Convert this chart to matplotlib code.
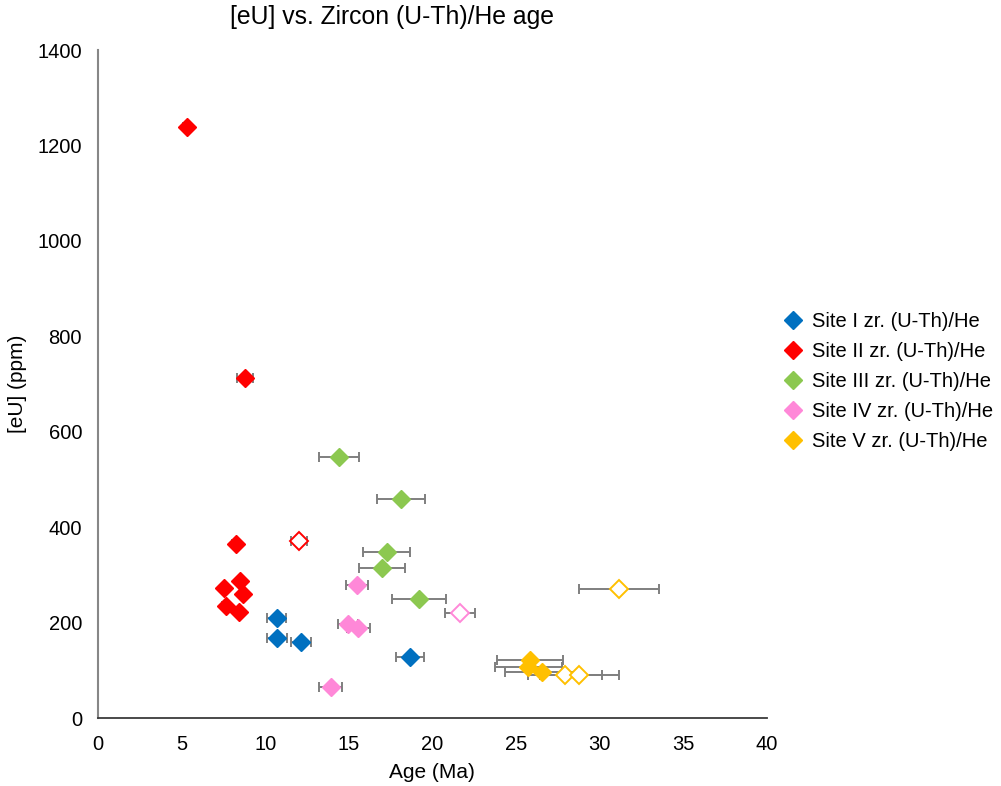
import matplotlib
matplotlib.use("Agg")
import matplotlib.pyplot as plt
from matplotlib.lines import Line2D

plt.rcParams['font.family'] = ['Liberation Sans', 'DejaVu Sans']

# Site series: age (Ma), eU (ppm), 1-sigma age uncertainty (Ma)
site1_age = [10.70, 10.70, 12.14, 18.65]
site1_eu = [210, 168, 160, 128]
site1_err = [0.57, 0.60, 0.60, 0.84]

site2_age = [5.30, 8.79, 8.23, 8.49, 7.53, 8.69, 7.63, 8.43]
site2_eu = [1239, 712, 365, 288, 272, 260, 235, 223]
site2_err = [0.20, 0.45, 0.22, 0.20, 0.20, 0.20, 0.20, 0.20]
site2_open_age = [12.02]
site2_open_eu = [372]
site2_open_err = [0.50]

site3_age = [14.43, 18.12, 17.26, 16.98, 19.19]
site3_eu = [548, 458, 347, 315, 250]
site3_err = [1.20, 1.42, 1.42, 1.40, 1.60]

site4_age = [15.49, 14.97, 15.57, 13.91]
site4_eu = [279, 198, 188, 64]
site4_err = [0.68, 0.60, 0.70, 0.70]
site4_open_age = [21.67]
site4_open_eu = [221]
site4_open_err = [0.90]

site5_age = [25.83, 25.73, 26.53]
site5_eu = [122, 106, 96]
site5_err = [2.00, 2.00, 2.18]
site5_open_age = [27.92, 28.78, 31.17]
site5_open_eu = [90, 90, 270]
site5_open_err = [2.20, 2.37, 2.39]

labels = ["Site I zr. (U-Th)/He", "Site II zr. (U-Th)/He", "Site III zr. (U-Th)/He",
          "Site IV zr. (U-Th)/He", "Site V zr. (U-Th)/He"]
colors = ["#0070C0", "#FF0000", "#8CC850", "#FF88D8", "#FFC000"]

x_ticks = [0, 5, 10, 15, 20, 25, 30, 35, 40]
y_ticks = [0, 200, 400, 600, 800, 1000, 1200, 1400]

fig = plt.figure(figsize=(10.01, 7.86), dpi=100)
ax = fig.add_axes([98 / 1001, 1 - 718 / 786, 669 / 1001, 668 / 786])

err_kw = dict(fmt='none', ecolor='#7F7F7F', elinewidth=1.4, capsize=3.5, capthick=1.4, zorder=2)
ms = 8.7

filled = [(site1_age, site1_eu, site1_err), (site2_age, site2_eu, site2_err),
          (site3_age, site3_eu, site3_err), (site4_age, site4_eu, site4_err),
          (site5_age, site5_eu, site5_err)]
opened = [(None, None, None), (site2_open_age, site2_open_eu, site2_open_err),
          (None, None, None), (site4_open_age, site4_open_eu, site4_open_err),
          (site5_open_age, site5_open_eu, site5_open_err)]

for (a, e, s), (oa, oe, os_), c in zip(filled, opened, colors):
    ax.errorbar(a, e, xerr=s, **err_kw)
    if oa is not None:
        ax.errorbar(oa, oe, xerr=os_, **err_kw)

for (a, e, s), (oa, oe, os_), c in zip(filled, opened, colors):
    ax.plot(a, e, 'D', ms=ms, mfc=c, mec=c, mew=1.0, zorder=4)
    if oa is not None:
        ax.plot(oa, oe, 'D', ms=ms, mfc='white', mec=c, mew=1.4, zorder=4)

ax.set_xlim(0, 40)
ax.set_ylim(0, 1400)
ax.set_xticks(x_ticks)
ax.set_yticks(y_ticks)
ax.tick_params(axis='both', length=0, labelsize=14.5, colors='black')
ax.tick_params(axis='x', pad=12)
ax.tick_params(axis='y', pad=11.5)

for side in ('top', 'right'):
    ax.spines[side].set_visible(False)
ax.spines['left'].set_color('#878787')
ax.spines['left'].set_linewidth(1.5)
ax.spines['bottom'].set_color('#3A3A3A')
ax.spines['bottom'].set_linewidth(1.3)

ax.set_xlabel("Age (Ma)", fontsize=15)
ax.set_ylabel("[eU] (ppm)", fontsize=15)
ax.xaxis.set_label_coords((432 - 98) / 669, -(773 - 718) / 668)
ax.yaxis.set_label_coords(-(98 - 18) / 669, 0.5)
ax.xaxis.label.set_va('center')
ax.yaxis.label.set_va('center')

fig.text(392 / 1001, 1 - 17 / 786, "[eU] vs. Zircon (U-Th)/He age",
         fontsize=17.8, ha='center', va='center')

handles = [Line2D([], [], ls='none', marker='D', ms=ms, mfc=c, mec=c, mew=1.0) for c in colors]
fig.legend(handles, labels, loc='upper left', bbox_to_anchor=(783 / 1001, 1 - 312 / 786),
           frameon=False, fontsize=14.5, handlelength=1.0, handletextpad=0.45,
           labelspacing=0.55, borderpad=0, borderaxespad=0)

fig.savefig("out.png", dpi=100)
